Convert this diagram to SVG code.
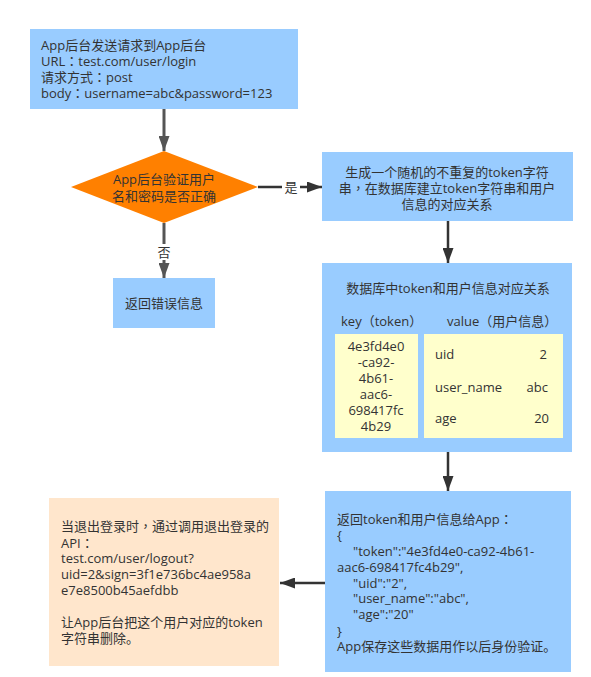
<svg xmlns="http://www.w3.org/2000/svg" width="591" height="677" viewBox="0 0 591 677">
<defs>
<style>
text{font-family:"Open Sans","Noto Sans CJK SC",sans-serif;font-size:13px;fill:#333;}
.p{font-family:"Noto Sans CJK TC","Noto Sans CJK SC",sans-serif;}
.c{text-anchor:middle;}
.r{text-anchor:end;}
.blue{fill:#99CCFF;}
.cream{fill:#FFFFCC;}
.peach{fill:#FFE6CC;}
.ln{stroke:#333;stroke-width:2.5;fill:none;}
.lg{stroke:#555;stroke-width:3;fill:none;}
</style>
<marker id="ah" viewBox="0 0 15 11" refX="15" refY="5.5" markerWidth="15" markerHeight="11" markerUnits="userSpaceOnUse" orient="auto">
<path d="M0,0 L15,5.5 L0,11 Z" fill="#333"/>
</marker>
<marker id="ahg" viewBox="0 0 15 11" refX="15" refY="5.5" markerWidth="15" markerHeight="11" markerUnits="userSpaceOnUse" orient="auto">
<path d="M0,0 L15,5.5 L0,11 Z" fill="#555"/>
</marker>
</defs>
<rect width="591" height="677" fill="#fff"/>
<g id="connectors">
<line class="lg" x1="164" y1="109" x2="164" y2="151" marker-end="url(#ahg)"/>
<line class="ln" x1="258" y1="187" x2="322" y2="187" marker-end="url(#ah)"/>
<rect x="282" y="179" width="18" height="16" fill="#fff"/>
<text class="c" x="291" y="192">是</text>
<line class="lg" x1="164" y1="223" x2="164" y2="278" marker-end="url(#ahg)"/>
<rect x="155" y="244" width="18" height="16" fill="#fff"/>
<text class="c" x="164" y="257">否</text>
<line class="ln" x1="448" y1="221" x2="448" y2="263" marker-end="url(#ah)"/>
<line class="ln" x1="448" y1="452" x2="448" y2="491" marker-end="url(#ah)"/>
<line class="ln" x1="325" y1="583" x2="280" y2="583" marker-end="url(#ah)"/>
</g>
<g id="n1">
<rect class="blue" x="30" y="29" width="268" height="80"/>
<text x="41" y="50">App后台发送请求到App后台</text>
<text x="41" y="66">URL<tspan class="p">：</tspan>test.com/user/login</text>
<text x="41" y="82">请求方式<tspan class="p">：</tspan>post</text>
<text x="41" y="98">body<tspan class="p">：</tspan>username=abc&amp;password=123</text>
</g>
<g id="n2">
<polygon points="164,151 258,187 164,223 71,187" fill="#FF8000"/>
<text class="c" x="164" y="184">App后台验证用户</text>
<text class="c" x="164" y="201">名和密码是否正确</text>
</g>
<g id="n3">
<rect class="blue" x="113" y="278" width="102" height="50"/>
<text class="c" x="164" y="308">返回错误信息</text>
</g>
<g id="n4">
<rect class="blue" x="322" y="152" width="251" height="69"/>
<text class="c" x="447" y="177">生成一个随机的不重复的token字符</text>
<text class="c" x="447" y="193">串<tspan class="p">，</tspan>在数据库建立token字符串和用户</text>
<text class="c" x="447" y="209">信息的对应关系</text>
</g>
<g id="n5">
<rect class="blue" x="322" y="263" width="250" height="189"/>
<text class="c" x="448" y="293">数据库中token和用户信息对应关系</text>
<text x="341" y="326">key（token）</text>
<text x="447" y="326">value（用户信息）</text>
<rect class="cream" x="335" y="334" width="83" height="104"/>
<text class="c" x="376" y="351">4e3fd4e0</text>
<text class="c" x="376" y="367">-ca92-</text>
<text class="c" x="376" y="383">4b61-</text>
<text class="c" x="376" y="399">aac6-</text>
<text class="c" x="376" y="415">698417fc</text>
<text class="c" x="376" y="431">4b29</text>
<rect class="cream" x="424" y="334" width="139" height="104"/>
<text x="435" y="359">uid</text>
<text class="r" x="547" y="359">2</text>
<text x="435" y="392">user_name</text>
<text class="r" x="548" y="392">abc</text>
<text x="435" y="423">age</text>
<text class="r" x="549" y="423">20</text>
</g>
<g id="n6">
<rect class="blue" x="325" y="491" width="246" height="181"/>
<text x="337" y="524">返回token和用户信息给App<tspan class="p">：</tspan></text>
<text x="337" y="540">{</text>
<text x="353" y="556">"token":"4e3fd4e0-ca92-4b61-</text>
<text x="337" y="572">aac6-698417fc4b29",</text>
<text x="353" y="588">"uid":"2",</text>
<text x="353" y="603">"user_name":"abc",</text>
<text x="353" y="619">"age":"20"</text>
<text x="337" y="636">}</text>
<text x="337" y="651">App保存这些数据用作以后身份验证。</text>
</g>
<g id="n7">
<rect class="peach" x="49" y="498" width="230" height="168"/>
<text x="61" y="531">当退出登录时<tspan class="p">，</tspan>通过调用退出登录的</text>
<text x="61" y="548">API<tspan class="p">：</tspan></text>
<text x="61" y="563">test.com/user/logout?</text>
<text x="61" y="579">uid=2&amp;sign=3f1e736bc4ae958a</text>
<text x="61" y="595">e7e8500b45aefdbb</text>
<text x="61" y="627">让App后台把这个用户对应的token</text>
<text x="61" y="643">字符串删除。</text>
</g>
</svg>
